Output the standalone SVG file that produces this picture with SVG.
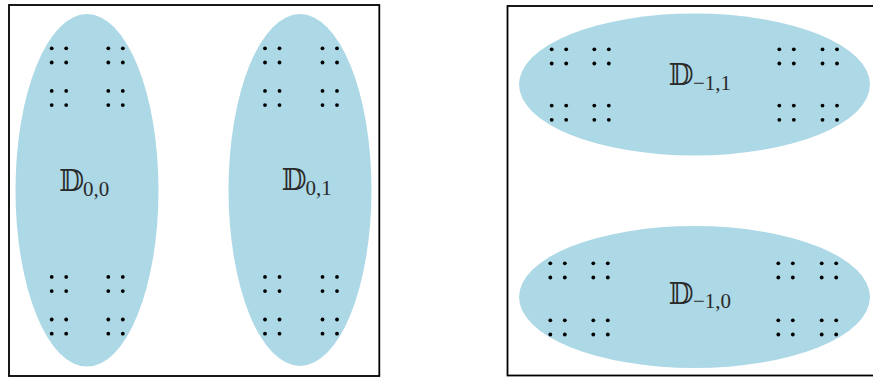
<svg xmlns="http://www.w3.org/2000/svg" xmlns:xlink="http://www.w3.org/1999/xlink" width="873" height="379" viewBox="0 0 873 379">
<style>
.box{fill:none;stroke:#000;stroke-width:1.8}
.ell{fill:#add8e6;stroke:none}
.dot{fill:#000}
.bb{font-family:"DejaVu Serif","DejaVu Sans",serif;font-size:29px;fill:#2a2a2a}
.sub{font-family:"Liberation Serif",serif;font-size:21px;fill:#2a2a2a}
</style>
<defs>
<g id="quad">
<circle class="dot" cx="0" cy="0" r="1.9"/>
<circle class="dot" cx="14.5" cy="0" r="1.9"/>
<circle class="dot" cx="0" cy="14.2" r="1.9"/>
<circle class="dot" cx="14.5" cy="14.2" r="1.9"/>
</g>
</defs>
<rect width="873" height="379" fill="#fff"/>
<g id="panel-left">
<rect class="box" x="9" y="5" width="370.3" height="371"/>
</g>
<g id="panel-right">
<rect class="box" x="507.5" y="6" width="370" height="369.5"/>
</g>
<g id="D00">
<ellipse class="ell" cx="87" cy="190.3" rx="71.5" ry="176.3"/>
<use xlink:href="#quad" x="51.7" y="48.3"/>
<use xlink:href="#quad" x="108.3" y="48.3"/>
<use xlink:href="#quad" x="51.7" y="90.9"/>
<use xlink:href="#quad" x="108.3" y="90.9"/>
<use xlink:href="#quad" x="51.7" y="276.9"/>
<use xlink:href="#quad" x="108.3" y="276.9"/>
<use xlink:href="#quad" x="51.7" y="319.5"/>
<use xlink:href="#quad" x="108.3" y="319.5"/>
<text class="bb" x="59" y="191">𝔻</text>
<text class="sub" x="83" y="195.5">0,0</text>
</g>
<g id="D01">
<ellipse class="ell" cx="300" cy="190" rx="71.5" ry="176"/>
<use xlink:href="#quad" x="265" y="48.3"/>
<use xlink:href="#quad" x="322.5" y="48.3"/>
<use xlink:href="#quad" x="265" y="90.9"/>
<use xlink:href="#quad" x="322.5" y="90.9"/>
<use xlink:href="#quad" x="265" y="276.9"/>
<use xlink:href="#quad" x="322.5" y="276.9"/>
<use xlink:href="#quad" x="265" y="319.5"/>
<use xlink:href="#quad" x="322.5" y="319.5"/>
<text class="bb" x="281.5" y="190">𝔻</text>
<text class="sub" x="305.5" y="194.5">0,1</text>
</g>
<g id="Dm11">
<ellipse class="ell" cx="694.5" cy="84.5" rx="175.5" ry="71"/>
<use xlink:href="#quad" x="551.7" y="49.3"/>
<use xlink:href="#quad" x="594.3" y="49.3"/>
<use xlink:href="#quad" x="779.3" y="49.3"/>
<use xlink:href="#quad" x="822.5" y="49.3"/>
<use xlink:href="#quad" x="551.7" y="105.6"/>
<use xlink:href="#quad" x="594.3" y="105.6"/>
<use xlink:href="#quad" x="779.3" y="105.6"/>
<use xlink:href="#quad" x="822.5" y="105.6"/>
<text class="bb" x="668.5" y="85">𝔻</text>
<text class="sub" x="693" y="89.5">−1,1</text>
</g>
<g id="Dm10">
<ellipse class="ell" cx="694.5" cy="297" rx="175.5" ry="71"/>
<use xlink:href="#quad" x="550.3" y="263.3"/>
<use xlink:href="#quad" x="593.3" y="263.3"/>
<use xlink:href="#quad" x="778.3" y="263.3"/>
<use xlink:href="#quad" x="821.7" y="263.3"/>
<use xlink:href="#quad" x="550.3" y="320.3"/>
<use xlink:href="#quad" x="593.3" y="320.3"/>
<use xlink:href="#quad" x="778.3" y="320.3"/>
<use xlink:href="#quad" x="821.7" y="320.3"/>
<text class="bb" x="668.5" y="303.5">𝔻</text>
<text class="sub" x="693" y="308">−1,0</text>
</g>
<g id="connectors"/>
</svg>
